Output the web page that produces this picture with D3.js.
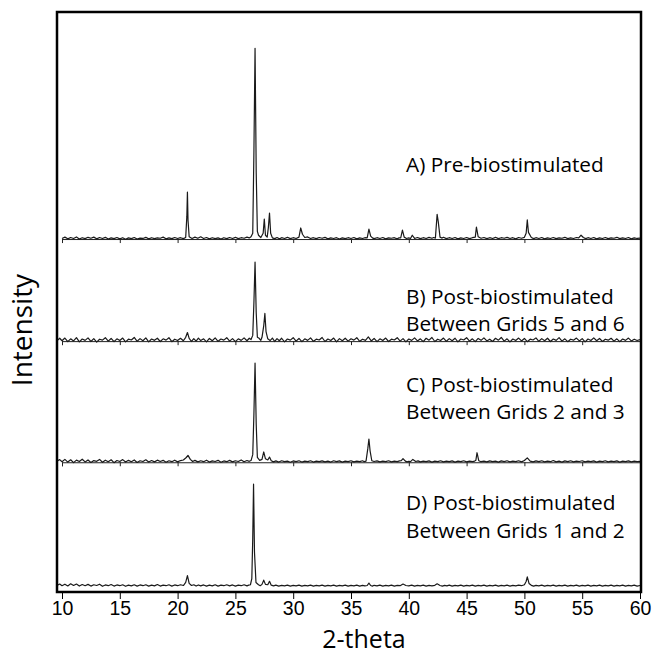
<!DOCTYPE html>
<html>
<head>
<meta charset="utf-8">
<script src="https://cdn.jsdelivr.net/npm/d3@7"></script>
<style>
body { margin: 0; background: #fff; }
</style>
</head>
<body>
<svg id="chart" width="653" height="656"></svg>
<script>
// tick labels of the 2-theta axis
var xTicks = [10, 15, 20, 25, 30, 35, 40, 45, 50, 55, 60];

// panel titles, top to bottom
var panelLabels = [
    ["A) Pre-biostimulated"],
    ["B) Post-biostimulated", "Between Grids 5 and 6"],
    ["C) Post-biostimulated", "Between Grids 2 and 3"],
    ["D) Post-biostimulated", "Between Grids 1 and 2"]
];

// patterns: [2-theta, intensity]
var seriesA = [[10,0.3],[10.25,1],[10.5,0.1],[10.75,0.8],[11,0.3],[11.25,1.1],[11.5,0],[11.75,0.7],[12,0.2],[12.25,0.9],[12.5,0.4],[12.75,1],[13,0.1],[13.25,0.8],[13.5,0.3],[13.75,0.9],[14,0],[14.25,0.6],[14.5,0.2],[14.75,0.8],
    [15,0.1],[15.25,0.7],[15.5,-0.1],[15.75,0.6],[16,0.2],[16.25,0.8],[16.5,0],[16.75,0.5],[17,0.3],[17.25,0.9],[17.5,0.1],[17.75,0.7],[18,0.2],[18.25,0.6],[18.5,0.4],[18.75,1],[19,0.1],[19.25,0.6],[19.5,0.2],[19.75,0.8],[20,0.3],[20.25,0.7],[20.5,0.2],
    [20.7,0.8],[20.8,12],[20.85,24.6],[20.9,10],[21,1.2],
    [21.25,0.3],[21.5,1],[21.75,0.4],[22,1.2],[22.25,0.3],[22.5,0.8],[22.75,0.1],[23,0.7],[23.25,0.2],[23.5,0.6],[23.75,0],[24,0.7],[24.25,0.2],[24.5,0.8],[24.75,0.3],[25,0.9],[25.25,0.2],[25.5,0.7],[25.75,0.4],[26,1],[26.2,0.6],[26.35,1.2],
    [26.5,3],[26.6,45],[26.7,100],[26.8,35],[26.9,4],[27,2],[27.2,0.8],[27.4,3],[27.5,10.5],[27.6,2],[27.75,1],[27.85,6],[27.95,13.6],[28.05,3],[28.2,0.6],
    [28.4,0.2],[28.6,0.8],[28.8,0.1],[29,0.7],[29.25,0.3],[29.5,0.9],[29.75,0.2],[30,0.7],[30.25,0.3],[30.5,1],[30.65,5.8],[30.8,2.5],[31,0.8],[31.25,1.1],[31.5,0.3],[31.75,0.7],[32,0.2],[32.25,0.8],[32.5,0.4],[32.75,0.9],
    [33,0.1],[33.25,0.6],[33.5,0.3],[33.75,0.7],[34,0],[34.25,0.6],[34.5,0.2],[34.75,0.7],[35,0.3],[35.25,0.8],[35.5,0.1],[35.75,0.6],[36,0.3],[36.2,0.7],[36.4,0.6],[36.55,5.2],[36.7,1.5],[36.85,0.6],
    [37,0.2],[37.25,0.7],[37.5,0.3],[37.75,0.8],[38,0.1],[38.25,0.6],[38.5,0.4],[38.75,0.7],[39,0.1],[39.15,0.6],[39.3,0.6],[39.45,4.7],[39.6,1],[39.8,0.3],[40,0.6],[40.15,0.3],[40.3,2],[40.5,0.3],[40.75,0.8],
    [41,0.2],[41.25,0.7],[41.5,0.3],[41.75,0.9],[42,0.4],[42.15,0.8],[42.3,0.5],[42.45,13],[42.55,9],[42.7,1],[42.85,0.5],[43,0.9],[43.25,0.2],[43.5,0.7],[43.75,0.3],[44,0.8],[44.25,0.1],[44.5,0.6],[44.75,0.3],
    [45,0.8],[45.25,0.2],[45.5,0.7],[45.75,1],[45.85,6.3],[46,1.2],[46.25,0.4],[46.5,0.8],[46.75,0.2],[47,0.7],[47.25,0.3],[47.5,0.9],[47.75,0.2],[48,0.7],[48.25,0.4],[48.5,0.9],[48.75,0.3],[49,0.7],[49.25,0.1],[49.5,0.8],[49.75,0.4],
    [50,0.9],[50.15,3],[50.25,10],[50.35,3.5],[50.6,0.8],[50.8,0.2],[51,0.7],[51.25,0.3],[51.5,0.8],[51.75,0.1],[52,0.6],[52.25,0.3],[52.5,0.8],[52.75,0.2],[53,0.6],[53.25,0.4],[53.5,0.9],[53.75,0.2],[54,0.6],[54.25,0.3],[54.5,0.8],
    [54.7,0.6],[54.9,2],[55.1,0.8],[55.3,0.2],[55.5,0.7],[55.75,0.3],[56,0.8],[56.25,0.1],[56.5,0.6],[56.75,0.3],[57,0.8],[57.25,0.2],[57.5,0.6],[57.75,0.4],[58,0.9],[58.25,0.2],[58.5,0.6],[58.75,0.3],[59,0.8],[59.25,0.1],[59.5,0.6],[59.75,0.3],[60,0.5]];

var seriesB = [[9.6,0.4],[9.8,1.5],[10,0.2],[10.25,1.6],[10.5,-0.3],[10.75,1.2],[11,0.1],[11.25,1.8],[11.5,-0.4],[11.75,1.1],[12,0.4],[12.25,1.7],[12.5,-0.2],[12.75,1.3],[13,-0.5],[13.25,1],[13.5,0.5],[13.75,1.8],[14,0],[14.25,1.4],[14.5,-0.3],[14.75,1.2],
    [15,0.3],[15.25,1.6],[15.5,-0.4],[15.75,1],[16,0.6],[16.25,1.9],[16.5,-0.1],[16.75,1.3],[17,0.2],[17.25,1.7],[17.5,-0.4],[17.75,1.1],[18,0.4],[18.25,1.5],[18.5,-0.2],[18.75,1.2],[19,0.5],[19.25,1.8],[19.5,-0.3],[19.75,1],[20,0.3],[20.25,1.5],[20.5,0.2],
    [20.7,2],[20.85,4.5],[21,1.4],[21.2,-0.2],[21.4,1.3],[21.6,0],[21.8,1.6],[22,0.3],[22.25,1.2],[22.5,-0.4],[22.75,1.4],[23,0.2],[23.25,1.7],[23.5,-0.1],[23.75,1.1],[24,0.5],[24.25,1.8],[24.5,0],[24.75,1.3],[25,-0.3],[25.25,1.2],[25.5,0.4],[25.75,1.7],[26,0.2],[26.2,1.5],[26.35,0.8],
    [26.5,3],[26.6,20],[26.7,41.4],[26.8,15],[26.9,2],[27.05,1.5],[27.2,0.4],[27.3,2],[27.45,8],[27.55,14.5],[27.65,5],[27.8,1.2],
    [28,0.3],[28.2,1.6],[28.4,-0.2],[28.6,1.3],[28.8,0.2],[29,1.5],[29.25,-0.4],[29.5,1.1],[29.75,0.5],[30,1.8],[30.25,0],[30.5,1.4],[30.75,-0.3],[31,1.2],[31.25,0.4],[31.5,1.7],[31.75,-0.1],[32,1],[32.25,0.6],[32.5,1.9],[32.75,-0.2],
    [33,1.1],[33.25,0.3],[33.5,1.6],[33.75,-0.4],[34,1.3],[34.25,0.2],[34.5,1.5],[34.75,0],[35,1.2],[35.25,0.5],[35.5,1.8],[35.75,-0.1],[36,1],[36.25,0.4],[36.5,2.2],[36.75,0.1],[37,1.4],[37.25,-0.3],[37.5,1.2],[37.75,0.3],
    [38,1.6],[38.25,-0.2],[38.5,1],[38.75,0.6],[39,1.8],[39.25,0],[39.5,1.3],[39.75,-0.4],[40,1.1],[40.25,0.4],[40.5,1.7],[40.75,0.1],[41,1.2],[41.25,-0.3],[41.5,1.5],[41.75,0.5],[42,1.9],[42.25,-0.2],[42.5,1],[42.75,0.3],
    [43,1.6],[43.25,-0.1],[43.5,1.3],[43.75,0.2],[44,1.5],[44.25,-0.4],[44.5,1.1],[44.75,0.6],[45,1.8],[45.25,0],[45.5,1.2],[45.75,-0.3],[46,1.4],[46.25,0.4],[46.5,1.7],[46.75,0.1],[47,1],[47.25,-0.2],[47.5,1.5],[47.75,0.5],
    [48,1.9],[48.25,0],[48.5,1.2],[48.75,-0.4],[49,1.1],[49.25,0.3],[49.5,1.6],[49.75,0.1],[50,1.4],[50.25,-0.3],[50.5,1],[50.75,0.6],[51,1.7],[51.25,-0.1],[51.5,1.3],[51.75,0.2],[52,1.5],[52.25,-0.2],[52.5,1.1],[52.75,0.4],
    [53,1.8],[53.25,0],[53.5,1.2],[53.75,-0.3],[54,1],[54.25,0.5],[54.5,1.6],[54.75,0.1],[55,1.3],[55.25,-0.4],[55.5,1.1],[55.75,0.3],[56,1.7],[56.25,0.2],[56.5,1.4],[56.75,-0.2],[57,1],[57.25,0.5],[57.5,1.5],[57.75,0],
    [58,1.2],[58.25,-0.3],[58.5,1.1],[58.75,0.4],[59,1.6],[59.25,0.1],[59.5,1],[59.75,0.3],[60,0.8]];

var seriesC = [[9.6,0.6],[9.8,1.4],[10,0.3],[10.25,1.5],[10.5,0.1],[10.75,1.3],[11,-0.2],[11.25,1.1],[11.5,0.4],[11.75,1.6],[12,0.2],[12.25,1.2],[12.5,-0.1],[12.75,0.9],[13,0.5],[13.25,1.5],[13.5,0],[13.75,1.1],[14,0.3],[14.25,1.3],[14.5,-0.2],[14.75,0.9],
    [15,0.4],[15.25,1.4],[15.5,0.1],[15.75,1],[16,0.3],[16.25,1.2],[16.5,-0.1],[16.75,0.8],[17,0.4],[17.25,1.3],[17.5,0.1],[17.75,0.9],[18,0.2],[18.25,1.1],[18.5,0.4],[18.75,1],[19,0],[19.25,0.8],[19.5,0.3],[19.75,1.1],[20,0.2],[20.25,0.9],[20.5,1.2],
    [20.75,2.5],[20.9,3.6],[21.1,1.5],[21.3,0.4],[21.5,1],[21.75,0.2],[22,0.8],[22.25,0.3],[22.5,1.1],[22.75,0.1],[23,0.7],[23.25,0.4],[23.5,1],[23.75,0],[24,0.7],[24.25,0.3],[24.5,1],[24.75,0.2],[25,0.8],[25.25,0.4],[25.5,1.2],[25.75,0.3],[26,0.9],[26.2,0.5],[26.35,0.9],
    [26.5,4],[26.6,25],[26.7,52],[26.8,20],[26.9,2.5],[27.1,1],[27.3,1.5],[27.45,5.4],[27.6,1.8],[27.8,1.2],[27.95,2.7],[28.1,0.8],
    [28.3,0.2],[28.5,0.7],[28.75,0.1],[29,0.8],[29.25,0.3],[29.5,0.6],[29.75,0],[30,0.7],[30.25,0.3],[30.5,0.8],[30.75,0.1],[31,0.6],[31.25,0.3],[31.5,0.8],[31.75,0.1],[32,0.6],[32.25,0.3],[32.5,0.7],[32.75,0.2],
    [33,0.6],[33.25,0.1],[33.5,0.8],[33.75,0.3],[34,0.7],[34.25,0.1],[34.5,0.6],[34.75,0.3],[35,0.8],[35.25,0.2],[35.5,0.6],[35.75,0.3],[36,0.8],[36.15,0.3],[36.3,0.6],[36.45,7],[36.55,12.2],[36.65,6],[36.8,0.8],
    [37,0.4],[37.25,0.7],[37.5,0.2],[37.75,0.6],[38,0.3],[38.25,0.8],[38.5,0.2],[38.75,0.6],[39,0.3],[39.2,0.7],[39.35,0.8],[39.5,1.9],[39.7,0.6],[39.85,0.2],[40,0.5],[40.15,0.3],[40.35,1.5],[40.6,0.4],[40.8,0.7],
    [41,0.2],[41.25,0.6],[41.5,0.3],[41.75,0.7],[42,0.1],[42.25,0.6],[42.5,0.3],[42.75,0.8],[43,0.2],[43.25,0.6],[43.5,0.3],[43.75,0.7],[44,0.1],[44.25,0.6],[44.5,0.3],[44.75,0.8],
    [45,0.2],[45.25,0.6],[45.5,0.3],[45.7,0.6],[45.8,1],[45.9,5],[46.05,0.8],[46.25,0.3],[46.5,0.6],[46.75,0.2],[47,0.7],[47.25,0.3],[47.5,0.6],[47.75,0.1],[48,0.7],[48.25,0.3],[48.5,0.8],[48.75,0.2],[49,0.6],[49.25,0.3],[49.5,0.8],[49.75,0.2],
    [50,0.9],[50.25,2.3],[50.5,0.6],[50.75,0.2],[51,0.7],[51.25,0.3],[51.5,0.8],[51.75,0.2],[52,0.6],[52.25,0.3],[52.5,0.9],[52.75,0.2],[53,0.6],[53.25,0.1],[53.5,0.7],[53.75,0.3],[54,0.8],[54.25,0.2],[54.5,0.6],[54.75,0.4],
    [55,0.8],[55.25,0.2],[55.5,0.6],[55.75,0.3],[56,0.7],[56.25,0.1],[56.5,0.6],[56.75,0.3],[57,0.8],[57.25,0.2],[57.5,0.6],[57.75,0.3],[58,0.7],[58.25,0.1],[58.5,0.6],[58.75,0.3],[59,0.7],[59.25,0.2],[59.5,0.6],[59.75,0.3],[60,0.5]];

var seriesD = [[9.6,0.5],[9.8,1.2],[10,0.3],[10.25,1.1],[10.5,0.2],[10.75,1.3],[11,0.4],[11.25,1.2],[11.5,0.1],[11.75,0.9],[12,0.3],[12.25,1],[12.5,0.1],[12.75,0.8],[13,0.4],[13.25,1.1],[13.5,0],[13.75,0.7],[14,0.3],[14.25,0.9],[14.5,0.1],[14.75,0.7],
    [15,0.3],[15.25,0.8],[15.5,0],[15.75,0.6],[16,0.2],[16.25,0.8],[16.5,0.1],[16.75,0.7],[17,0.3],[17.25,0.8],[17.5,0.1],[17.75,0.6],[18,0.2],[18.25,0.9],[18.5,0.1],[18.75,0.6],[19,0.3],[19.25,0.8],[19.5,0.1],[19.75,0.7],[20,0.3],[20.25,0.8],[20.5,0.4],
    [20.7,2],[20.85,5.6],[21,1.5],[21.2,0.4],[21.4,0.8],[21.6,0.1],[21.8,0.7],[22,0.2],[22.25,0.7],[22.5,0.1],[22.75,0.6],[23,0.2],[23.25,0.8],[23.5,0.1],[23.75,0.6],[24,0.3],[24.25,0.8],[24.5,0.2],[24.75,0.7],[25,0.1],[25.25,0.6],[25.5,0.3],[25.75,0.8],[26,0.2],[26.15,0.6],
    [26.3,0.8],[26.42,4],[26.5,25],[26.57,53.5],[26.65,18],[26.78,2],[27,0.8],[27.15,0.3],[27.3,1],[27.45,3.2],[27.6,1],[27.8,0.8],[27.95,2.6],[28.1,0.6],
    [28.3,0.2],[28.5,0.6],[28.75,0.1],[29,0.5],[29.25,0.2],[29.5,0.6],[29.75,0.1],[30,0.5],[30.25,0.2],[30.5,0.6],[30.75,0.1],[31,0.5],[31.25,0.2],[31.5,0.6],[31.75,0.1],[32,0.5],[32.25,0.2],[32.5,0.6],[32.75,0.1],
    [33,0.5],[33.25,0.2],[33.5,0.6],[33.75,0.1],[34,0.5],[34.25,0.2],[34.5,0.6],[34.75,0.1],[35,0.5],[35.25,0.2],[35.5,0.6],[35.75,0.1],[36,0.5],[36.2,0.2],[36.4,0.4],[36.55,1.7],[36.7,0.4],[36.85,0.1],
    [37,0.5],[37.25,0.2],[37.5,0.6],[37.75,0.1],[38,0.5],[38.25,0.2],[38.5,0.6],[38.75,0.1],[39,0.5],[39.25,0.3],[39.5,1.2],[39.75,0.4],[40,0.2],[40.25,0.6],[40.5,0.1],[40.75,0.5],
    [41,0.2],[41.25,0.6],[41.5,0.1],[41.75,0.5],[42,0.2],[42.25,0.5],[42.45,1.3],[42.7,0.4],[42.9,0.1],[43.1,0.5],[43.3,0.2],[43.5,0.6],[43.75,0.1],[44,0.5],[44.25,0.2],[44.5,0.6],[44.75,0.1],
    [45,0.5],[45.25,0.2],[45.5,0.6],[45.75,0.1],[46,0.5],[46.25,0.2],[46.5,0.6],[46.75,0.1],[47,0.5],[47.25,0.2],[47.5,0.6],[47.75,0.1],[48,0.5],[48.25,0.2],[48.5,0.6],[48.75,0.1],[49,0.5],[49.25,0.2],[49.5,0.6],[49.75,0.3],
    [50,0.8],[50.15,2.5],[50.25,4.9],[50.4,1.5],[50.6,0.5],[50.8,0.1],[51,0.5],[51.25,0.2],[51.5,0.6],[51.75,0.1],[52,0.5],[52.25,0.2],[52.5,0.6],[52.75,0.1],[53,0.5],[53.25,0.2],[53.5,0.6],[53.75,0.1],[54,0.5],[54.25,0.2],[54.5,0.6],[54.75,0.1],
    [55,0.5],[55.25,0.2],[55.5,0.6],[55.75,0.1],[56,0.5],[56.25,0.2],[56.5,0.6],[56.75,0.1],[57,0.5],[57.25,0.2],[57.5,0.6],[57.75,0.1],[58,0.5],[58.25,0.2],[58.5,0.6],[58.75,0.1],[59,0.5],[59.25,0.2],[59.5,0.6],[59.75,0.1],[60,0.4]];

var allSeries = [seriesA, seriesB, seriesC, seriesD];

// vertical shift of each pattern in the stack (intensity units)
var stackShift = [182, 128.5, 65, 0];

var frame = { left: 57, right: 641, top: 12, bottom: 592 };

var svg = d3.select("#chart");

var x = d3.scaleLinear()
    .domain([10, 60])
    .range([62, 640]);

var y = d3.scaleLinear()
    .domain([-3, 301])
    .range([frame.bottom, frame.top]);

var line = d3.line()
    .x(function(d) { return x(d[0]); })
    .y(function(d) { return y(d[1]); });

// baseline axis for the upper three panels
for (var i = 0; i < 3; i++) {
    var axisG = svg.append("g")
        .attr("class", "panel-axis")
        .attr("transform", "translate(0," + y(stackShift[i]) + ")")
        .call(d3.axisBottom(x).tickValues(xTicks).tickSize(4).tickFormat(""));
    axisG.select(".domain").attr("stroke", "#222").attr("stroke-width", 1);
    axisG.selectAll(".tick line").attr("stroke", "#222");
}

// patterns
svg.selectAll("path.pattern")
    .data(allSeries)
    .enter()
    .append("path")
    .attr("class", "pattern")
    .attr("fill", "none")
    .attr("stroke", "#1a1a1a")
    .attr("stroke-width", 1.2)
    .attr("stroke-linejoin", "round")
    .attr("d", function(d, i) {
        var shifted = d.map(function(p) { return [p[0], p[1] + stackShift[i]]; });
        return line(shifted);
    });

// bottom axis, ticks outside the frame
var xAxis = svg.append("g")
    .attr("transform", "translate(0," + frame.bottom + ")")
    .call(d3.axisBottom(x).tickValues(xTicks).tickSize(7).tickPadding(2));
xAxis.select(".domain").remove();
xAxis.selectAll(".tick line").attr("stroke", "#000").attr("stroke-width", 1);
xAxis.selectAll(".tick text")
    .style("font-family", "'Liberation Sans Narrow', 'Arial Narrow', 'Liberation Sans', sans-serif")
    .style("font-size", "19.5px")
    .attr("fill", "#000");

// outer frame
svg.append("rect")
    .attr("x", frame.left)
    .attr("y", frame.top)
    .attr("width", frame.right - frame.left)
    .attr("height", frame.bottom - frame.top)
    .attr("fill", "none")
    .attr("stroke", "#000")
    .attr("stroke-width", 2.5);

// panel titles
var titleY = [[172], [304, 330.5], [392, 418.5], [510, 538]];
var labelFont = "'Open Sans', 'Noto Sans', sans-serif";
panelLabels.forEach(function(lines, i) {
    lines.forEach(function(t, j) {
        svg.append("text")
            .attr("x", 406)
            .attr("y", titleY[i][j])
            .style("font-family", labelFont)
            .style("font-size", "20.8px")
            .attr("fill", "#000")
            .text(t);
    });
});

// axis titles
svg.append("text")
    .attr("x", 364)
    .attr("y", 647.5)
    .attr("text-anchor", "middle")
    .style("font-family", labelFont)
    .style("font-size", "25px")
    .text("2-theta");

svg.append("text")
    .attr("transform", "translate(32,330) rotate(-90)")
    .attr("text-anchor", "middle")
    .style("font-family", labelFont)
    .style("font-size", "28px")
    .text("Intensity");
</script>
</body>
</html>
